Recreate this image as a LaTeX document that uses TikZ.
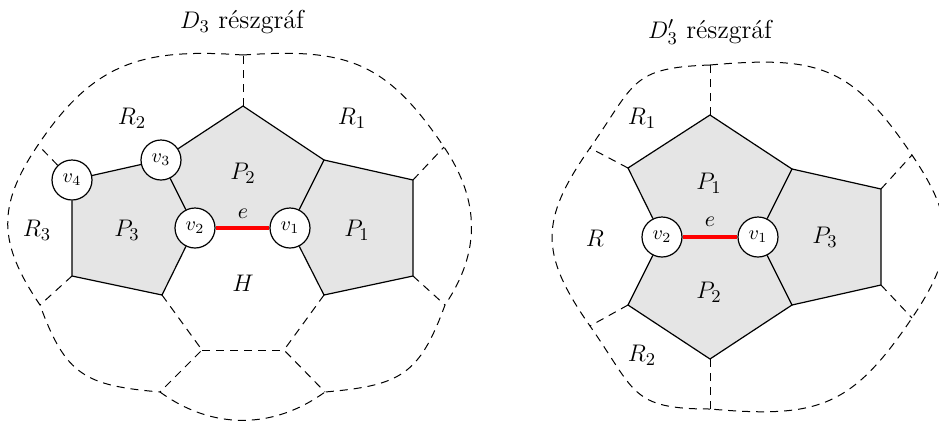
\documentclass[tikz,border=0pt]{standalone}
\begin{document}
\begin{tikzpicture}[x=0.5pt,y=-0.5pt,
  face/.style={fill=gray!20},
  edge/.style={line width=0.6pt},
  dedge/.style={line width=0.5pt, dash pattern=on 4pt off 3pt},
  redge/.style={red, line width=2pt},
  vert/.style={circle, draw, line width=0.6pt, fill=white, minimum size=20pt, inner sep=0pt, font=\fontsize{10}{12}\selectfont},
  lab/.style={font=\fontsize{13}{15}\selectfont},
  elab/.style={font=\fontsize{10.5}{12}\selectfont}]
\useasboundingbox (0,0) rectangle (939,424);

% ---------- left picture: coordinates ----------
\coordinate (Lp1) at (290,228);
\coordinate (Lp2) at (195,228);
\coordinate (Lp3) at (161,160);
\coordinate (Lp4) at (72,180);
\coordinate (LA) at (243,106);
\coordinate (LB) at (324,160);
\coordinate (LC) at (413,180);
\coordinate (LD) at (413,276);
\coordinate (LE) at (324,295);
\coordinate (LF) at (162,295);
\coordinate (LG) at (72,276);
\coordinate (LH1) at (202,350);
\coordinate (LH2) at (284,350);
\coordinate (Lo1) at (243,55);
\coordinate (Lo2) at (444,147);
\coordinate (Lo3) at (445,305);
\coordinate (Lo4) at (325,392);
\coordinate (Lo5) at (160,392);
\coordinate (Lo6) at (40,305);
\coordinate (Lo7) at (38,145);

% faces
\fill[face] (Lp1) -- (LB) -- (LA) -- (Lp3) -- (Lp2) -- cycle;
\fill[face] (Lp4) -- (Lp3) -- (Lp2) -- (LF) -- (LG) -- cycle;
\fill[face] (Lp1) -- (LB) -- (LC) -- (LD) -- (LE) -- cycle;

% vertices
\node[vert] (Lv1) at (Lp1) {$v_1$};
\node[vert] (Lv2) at (Lp2) {$v_2$};
\node[vert] (Lv3) at (Lp3) {$v_3$};
\node[vert] (Lv4) at (Lp4) {$v_4$};

% solid edges
\draw[edge] (Lv1) -- (LB) -- (LA) -- (Lv3) -- (Lv2);
\draw[edge] (Lv3) -- (Lv4) -- (LG) -- (LF) -- (Lv2);
\draw[edge] (Lv1) -- (LE) -- (LD) -- (LC) -- (LB);
\draw[redge] (Lv2) -- (Lv1);

% dashed edges
\draw[dedge] (LA) -- (Lo1);
\draw[dedge] (LC) -- (Lo2);
\draw[dedge] (LD) -- (Lo3);
\draw[dedge] (LE) -- (LH2) -- (Lo4);
\draw[dedge] (LF) -- (LH1) -- (Lo5);
\draw[dedge] (LH1) -- (LH2);
\draw[dedge] (LG) -- (Lo6);
\draw[dedge] (Lv4) -- (Lo7);

% outer boundary
\draw[dedge] (Lo1) to[out=176, in=56, looseness=1.15] (Lo7)
  to[out=236, in=124, looseness=1.19] (Lo6)
  to[out=290, in=175, looseness=1.3] (Lo5);
\draw[dedge] (Lo1) to[out=4, in=124, looseness=1.2] (Lo2)
  to[out=304, in=56, looseness=1.04] (Lo3)
  to[out=250, in=5, looseness=1.3] (Lo4);
\draw[dedge] (Lo5) to[bend right=36] (Lo4);

% labels
\node[lab] (Ltitle) at (242,22) {$D_3$ részgráf};
\node[lab] (LR1) at (352,118) {$R_1$};
\node[lab] (LR2) at (132,118) {$R_2$};
\node[lab] (LR3) at (37,230) {$R_3$};
\node[lab] (LP1) at (357,230) {$P_1$};
\node[lab] (LP2) at (243,173) {$P_2$};
\node[lab] (LP3) at (127,230) {$P_3$};
\node[lab] (LHl) at (243,283) {$H$};
\node[elab] (Le) at (243,214) {$e$};

% ---------- right picture: coordinates ----------
\coordinate (Rp1) at (758,237);
\coordinate (Rp2) at (662,237);
\coordinate (Ra1) at (710,115);
\coordinate (Ra2) at (628,168);
\coordinate (Ra3) at (792,169);
\coordinate (Ra4) at (792,305);
\coordinate (Ra5) at (710,359);
\coordinate (Ra6) at (628,305);
\coordinate (Ra7) at (881,189);
\coordinate (Ra8) at (881,285);
\coordinate (Rq1) at (710,65);
\coordinate (Rq2) at (912,155);
\coordinate (Rq3) at (912,318);
\coordinate (Rq4) at (710,409);
\coordinate (Rq5) at (590,326);
\coordinate (Rq6) at (590,148);

% faces
\fill[face] (Rp2) -- (Ra2) -- (Ra1) -- (Ra3) -- (Rp1) -- cycle;
\fill[face] (Rp2) -- (Ra6) -- (Ra5) -- (Ra4) -- (Rp1) -- cycle;
\fill[face] (Rp1) -- (Ra3) -- (Ra7) -- (Ra8) -- (Ra4) -- cycle;

% vertices
\node[vert] (Rv1) at (Rp1) {$v_1$};
\node[vert] (Rv2) at (Rp2) {$v_2$};

% solid edges
\draw[edge] (Rv2) -- (Ra2) -- (Ra1) -- (Ra3) -- (Rv1);
\draw[edge] (Rv2) -- (Ra6) -- (Ra5) -- (Ra4) -- (Rv1);
\draw[edge] (Ra3) -- (Ra7) -- (Ra8) -- (Ra4);
\draw[redge] (Rv2) -- (Rv1);

% dashed edges
\draw[dedge] (Ra1) -- (Rq1);
\draw[dedge] (Ra7) -- (Rq2);
\draw[dedge] (Ra8) -- (Rq3);
\draw[dedge] (Ra5) -- (Rq4);
\draw[dedge] (Ra6) -- (Rq5);
\draw[dedge] (Ra2) -- (Rq6);

% outer boundary
\draw[dedge] (Rq1) to[out=182, in=55, looseness=1.4] (Rq6)
  to[out=235, in=125, looseness=1.27] (Rq5)
  to[out=305, in=180, looseness=1.4] (Rq4);
\draw[dedge] (Rq1) to[out=5, in=124, looseness=1.25] (Rq2)
  to[out=304, in=56, looseness=1.23] (Rq3)
  to[out=236, in=-5, looseness=1.25] (Rq4);

% labels
\node[lab] (Rtitle) at (710,32) {$D'_3$ részgráf};
\node[lab] (RR1) at (642,118) {$R_1$};
\node[lab] (RR2) at (642,355) {$R_2$};
\node[lab] (RR) at (595,238) {$R$};
\node[lab] (RP1) at (709,183) {$P_1$};
\node[lab] (RP2) at (709,292) {$P_2$};
\node[lab] (RP3) at (825,237) {$P_3$};
\node[elab] (Re) at (710,222) {$e$};
\end{tikzpicture}
\end{document}
